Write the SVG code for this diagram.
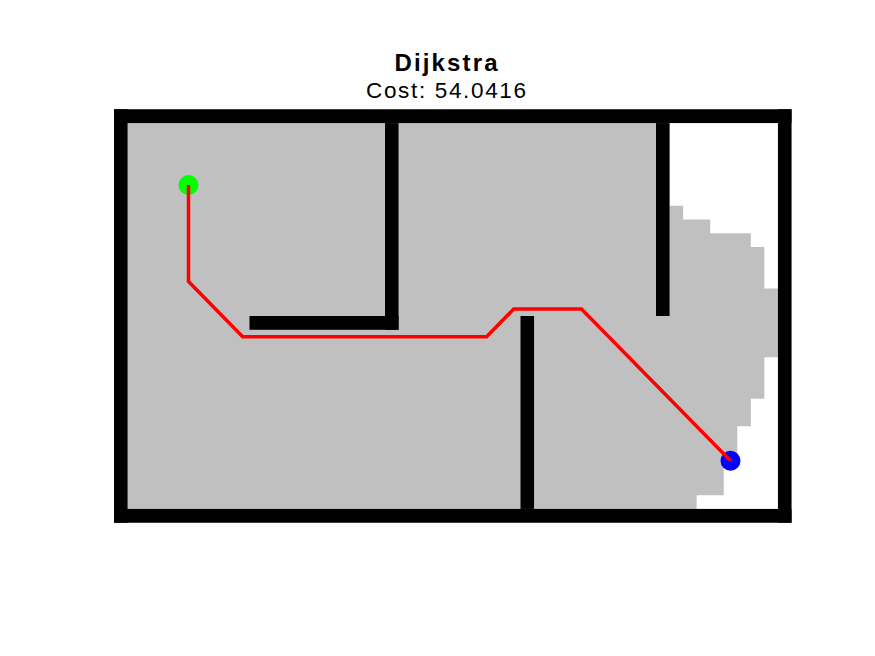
<svg xmlns="http://www.w3.org/2000/svg" width="875" height="656" viewBox="0 0 875 656">
<style>
.wall{fill:#000}
.free{fill:#fff}
.title{font-family:"Liberation Sans",Arial,sans-serif;fill:#000;text-anchor:middle}
.path{fill:none;stroke:#ff0000;stroke-width:3.5;stroke-linejoin:miter}
</style>
<rect width="875" height="656" fill="#fff"/>
<text class="title" x="446" y="70.7" font-size="24" font-weight="bold" textLength="103" lengthAdjust="spacing">Dijkstra</text>
<text class="title" x="446" y="98" font-size="22.5" textLength="160" lengthAdjust="spacing">Cost: 54.0416</text>
<g id="explored">
<rect x="114" y="109.3" width="677.5" height="413.4" fill="#c0c0c0"/>
<polygon class="free" points="669.55,123.08 777.95,123.08 777.95,288.44 764.4,288.44 764.4,247.1 750.85,247.1 750.85,233.32 710.2,233.32 710.2,219.54 683.1,219.54 683.1,205.76 669.55,205.76"/>
<polygon class="free" points="777.95,357.34 777.95,508.92 696.65,508.92 696.65,495.14 723.75,495.14 723.75,467.58 737.3,467.58 737.3,426.24 750.85,426.24 750.85,398.68 764.4,398.68 764.4,357.34"/>
</g>
<g id="walls">
<rect class="wall" x="114" y="109.3" width="677.5" height="13.78"/>
<rect class="wall" x="114" y="508.92" width="677.5" height="13.78"/>
<rect class="wall" x="114" y="109.3" width="13.55" height="413.4"/>
<rect class="wall" x="777.95" y="109.3" width="13.55" height="413.4"/>
<rect class="wall" x="385" y="123.08" width="13.55" height="206.7"/>
<rect class="wall" x="249.5" y="316" width="149.05" height="13.78"/>
<rect class="wall" x="656" y="123.08" width="13.55" height="192.92"/>
<rect class="wall" x="520.5" y="316" width="13.55" height="192.92"/>
</g>
<g id="start"><circle cx="188.5" cy="185" r="10" fill="#00ff00"/></g>
<g id="goal"><circle cx="730.5" cy="460.7" r="10" fill="#0000ff"/></g>
<g id="connectors">
<polyline class="path" points="188.5,185 188.5,281.55 242.7,336.67 486.6,336.67 513.7,309.1 581.5,309.1 730.5,460.7"/>
</g>
</svg>
